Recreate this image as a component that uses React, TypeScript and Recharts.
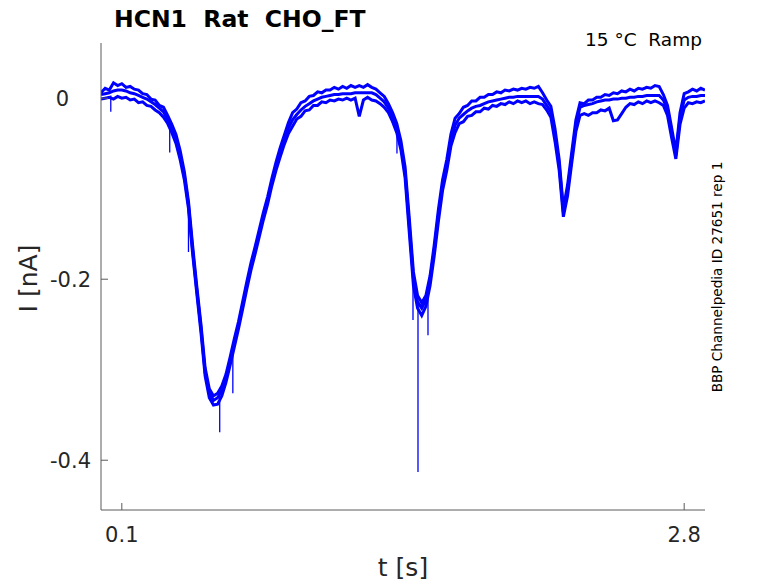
import { LineChart, Line, XAxis, YAxis } from 'recharts'

const BLUE = '#0000ff'
const INK = '#262626'
const AXIS = '#5a5a5a'
const FONT = '"DejaVu Sans", sans-serif'

// sample times [s]
const T = [
  0, 0.02, 0.04, 0.06, 0.08, 0.1, 0.12, 0.14, 0.16, 0.18,
  0.2, 0.22, 0.24, 0.26, 0.28, 0.3, 0.32, 0.34, 0.36, 0.38,
  0.4, 0.42, 0.44, 0.46, 0.48, 0.5, 0.52, 0.54, 0.56, 0.58,
  0.6, 0.62, 0.64, 0.66, 0.68, 0.7, 0.72, 0.74, 0.76, 0.78,
  0.8, 0.82, 0.84, 0.86, 0.88, 0.9, 0.92, 0.94, 0.96, 0.98,
  1.0, 1.02, 1.04, 1.06, 1.08, 1.1, 1.12, 1.14, 1.16, 1.18,
  1.2, 1.22, 1.24, 1.26, 1.28, 1.3, 1.32, 1.34, 1.36, 1.38,
  1.4, 1.42, 1.44, 1.46, 1.48, 1.5, 1.52, 1.54, 1.56, 1.58,
  1.6, 1.62, 1.64, 1.66, 1.68, 1.7, 1.72, 1.74, 1.76, 1.78,
  1.8, 1.82, 1.84, 1.86, 1.88, 1.9, 1.92, 1.94, 1.96, 1.98,
  2.0, 2.02, 2.04, 2.06, 2.08, 2.1, 2.12, 2.14, 2.16, 2.18,
  2.2, 2.22, 2.24, 2.26, 2.28, 2.3, 2.32, 2.34, 2.36, 2.38,
  2.4, 2.42, 2.44, 2.46, 2.48, 2.5, 2.52, 2.54, 2.56, 2.58,
  2.6, 2.62, 2.64, 2.66, 2.68, 2.7, 2.72, 2.74, 2.76, 2.78,
  2.8, 2.82, 2.84, 2.86, 2.88, 2.9,
]

// current [nA], three sweeps
const SWEEP_1 = [
  0.006, 0.011, 0.009, 0.017, 0.014, 0.016, 0.012, 0.013, 0.010, 0.009,
  0.005, 0.004, -0.001, -0.002, -0.008, -0.010, -0.019, -0.029, -0.040, -0.058,
  -0.081, -0.114, -0.163, -0.208, -0.250, -0.298, -0.321, -0.329, -0.326, -0.318,
  -0.305, -0.286, -0.266, -0.247, -0.225, -0.203, -0.182, -0.164, -0.145, -0.126,
  -0.109, -0.089, -0.071, -0.055, -0.041, -0.027, -0.016, -0.012, -0.005, -0.003,
  0.002, 0.003, 0.007, 0.006, 0.009, 0.009, 0.012, 0.010, 0.013, 0.011,
  0.014, 0.012, 0.014, 0.012, 0.015, 0.012, 0.010, 0.006, 0.002, -0.006,
  -0.016, -0.028, -0.047, -0.076, -0.132, -0.192, -0.218, -0.226, -0.218, -0.196,
  -0.162, -0.123, -0.090, -0.068, -0.040, -0.022, -0.017, -0.010, -0.008, -0.003,
  -0.003, 0.001, 0.001, 0.004, 0.004, 0.007, 0.006, 0.009, 0.008, 0.010,
  0.009, 0.011, 0.010, 0.012, 0.011, 0.013, 0.006, -0.002, -0.009, -0.034,
  -0.068, -0.122, -0.096, -0.060, -0.024, -0.005, -0.006, -0.002, -0.002, 0.001,
  0.001, 0.004, 0.003, 0.006, 0.005, 0.008, 0.007, 0.010, 0.008, 0.011,
  0.010, 0.012, 0.011, 0.014, 0.013, 0.004, -0.008, -0.033, -0.059, -0.016,
  0.005, 0.007, 0.010, 0.008, 0.011, 0.009,
]

const SWEEP_2 = [
  0.004, 0.005, 0.006, 0.008, 0.009, 0.009, 0.008, 0.006, 0.005, 0.003,
  0.001, -0.001, -0.004, -0.007, -0.011, -0.015, -0.024, -0.033, -0.044, -0.063,
  -0.085, -0.118, -0.168, -0.212, -0.254, -0.303, -0.326, -0.334, -0.331, -0.323,
  -0.309, -0.290, -0.270, -0.251, -0.229, -0.207, -0.186, -0.168, -0.149, -0.130,
  -0.113, -0.093, -0.076, -0.060, -0.046, -0.033, -0.024, -0.018, -0.013, -0.009,
  -0.006, -0.003, -0.001, 0.001, 0.002, 0.003, 0.004, 0.004, 0.005, 0.005,
  0.005, 0.006, 0.006, 0.006, 0.006, 0.006, 0.004, 0.000, -0.004, -0.011,
  -0.021, -0.033, -0.052, -0.082, -0.140, -0.199, -0.225, -0.232, -0.223, -0.201,
  -0.168, -0.129, -0.096, -0.074, -0.046, -0.030, -0.022, -0.018, -0.014, -0.011,
  -0.009, -0.008, -0.006, -0.004, -0.003, -0.002, -0.001, 0.000, 0.001, 0.001,
  0.002, 0.002, 0.002, 0.002, 0.002, 0.002, -0.001, -0.008, -0.015, -0.041,
  -0.074, -0.126, -0.102, -0.066, -0.030, -0.010, -0.008, -0.007, -0.006, -0.004,
  -0.003, -0.002, -0.002, -0.001, -0.001, 0.000, 0.000, 0.001, 0.001, 0.002,
  0.002, 0.003, 0.003, 0.003, 0.003, -0.002, -0.013, -0.038, -0.063, -0.022,
  -0.002, 0.001, 0.002, 0.002, 0.003, 0.003,
]

const SWEEP_3 = [
  -0.001, 0.000, 0.001, -0.001, 0.002, 0.000, 0.001, -0.002, -0.001, -0.005,
  -0.004, -0.008, -0.009, -0.013, -0.016, -0.021, -0.028, -0.038, -0.050, -0.068,
  -0.090, -0.122, -0.172, -0.216, -0.259, -0.307, -0.331, -0.339, -0.338, -0.329,
  -0.314, -0.295, -0.275, -0.255, -0.233, -0.211, -0.190, -0.172, -0.153, -0.134,
  -0.117, -0.097, -0.080, -0.065, -0.051, -0.039, -0.031, -0.023, -0.020, -0.014,
  -0.013, -0.008, -0.008, -0.004, -0.005, -0.002, -0.003, -0.001, -0.002, 0.000,
  -0.002, 0.000, -0.020, -0.002, 0.001, -0.002, -0.003, -0.006, -0.010, -0.016,
  -0.026, -0.038, -0.057, -0.088, -0.148, -0.207, -0.232, -0.240, -0.230, -0.207,
  -0.174, -0.136, -0.102, -0.080, -0.053, -0.038, -0.028, -0.026, -0.020, -0.019,
  -0.015, -0.015, -0.011, -0.012, -0.008, -0.009, -0.006, -0.007, -0.004, -0.006,
  -0.003, -0.005, -0.003, -0.006, -0.004, -0.006, -0.007, -0.013, -0.021, -0.048,
  -0.080, -0.131, -0.108, -0.072, -0.037, -0.019, -0.017, -0.019, -0.016, -0.016,
  -0.013, -0.014, -0.011, -0.025, -0.024, -0.017, -0.010, -0.006, -0.007, -0.004,
  -0.006, -0.003, -0.005, -0.003, -0.005, -0.008, -0.019, -0.044, -0.067, -0.029,
  -0.011, -0.005, -0.006, -0.004, -0.005, -0.003,
]

// single-sample glitches: time, level before, level reached
const GLITCH_T = [0.047, 0.33, 0.42, 0.57, 0.633, 1.421, 1.498, 1.522, 1.57]
const GLITCH_FROM = [0.003, -0.03, -0.118, -0.33, -0.27, -0.035, -0.2, -0.225, -0.215]
const GLITCH_TO = [-0.015, -0.06, -0.17, -0.369, -0.326, -0.061, -0.245, -0.413, -0.262]

const X_TICKS = [0.1, 2.8]
const Y_TICKS = [-0.4, -0.2, 0]

const rows = T.map((t, i) => ({ t, s1: SWEEP_1[i], s2: SWEEP_2[i], s3: SWEEP_3[i] }))
const glitches = GLITCH_T.flatMap((t, i) => [
  { t, g: GLITCH_FROM[i] },
  { t, g: GLITCH_TO[i] },
  { t, g: null },
])

function YTick(props: any) {
  const { x, y, payload } = props
  const v = payload.value
  const label = v === 0 ? '0' : v.toFixed(1)
  return (
    <g>
      <line x1={x + 10} x2={x + 17} y1={y} y2={y} stroke={AXIS} />
      <text x={v === 0 ? x - 22 : x} y={y} dy="0.36em" textAnchor="end"
        fill={INK} fontSize={21} fontFamily={FONT}>{label}</text>
    </g>
  )
}

function XTick(props: any) {
  const { x, y, payload } = props
  return (
    <g>
      <line x1={x} x2={x} y1={y - 32} y2={y - 39} stroke={AXIS} />
      <text x={x} y={y} textAnchor="middle" fill={INK} fontSize={21} fontFamily={FONT}>
        {payload.value.toFixed(1)}
      </text>
    </g>
  )
}

function YLabel(props: any) {
  const { x, y, height } = props.viewBox
  const cx = x + 28
  const cy = y + height / 2 + 2
  return (
    <text x={cx} y={cy} transform={`rotate(-90, ${cx}, ${cy})`} textAnchor="middle"
      dominantBaseline="central" fill={INK} fontSize={25} fontFamily={FONT}>I [nA]</text>
  )
}

function XLabel(props: any) {
  const { x, y, width } = props.viewBox
  return (
    <text x={x + width / 2} y={y + 66} textAnchor="middle" fill={INK}
      fontSize={25} fontFamily={FONT}>t [s]</text>
  )
}

export default function App() {
  return (
    <div style={{ position: 'absolute', left: 0, top: 0, width: 778, height: 583, background: '#fff', fontFamily: FONT }}>
      <div style={{ position: 'absolute', left: 114, top: 5, fontSize: 23.5, fontWeight: 'bold', color: '#000', whiteSpace: 'pre' }}>
        {'HCN1  Rat  CHO_FT'}
      </div>
      <div style={{ position: 'absolute', left: 585, top: 29, fontSize: 18.5, color: '#000', whiteSpace: 'pre' }}>
        {'15 °C  Ramp'}
      </div>
      <div style={{
        position: 'absolute', left: 717, top: 277, fontSize: 13.6, color: '#000', whiteSpace: 'pre',
        transform: 'translate(-50%, -50%) rotate(-90deg)',
      }}>
        BBP Channelpedia ID 27651 rep 1
      </div>
      <LineChart width={778} height={583} data={rows} margin={{ top: 43, right: 73, bottom: 0, left: 0 }}>
        <XAxis dataKey="t" type="number" domain={[0, 2.9]} ticks={X_TICKS} allowDataOverflow
          height={73} tickSize={0} tickMargin={32} stroke={AXIS} tick={<XTick />} tickLine={false}
          label={{ content: <XLabel /> }} />
        <YAxis type="number" domain={[-0.455, 0.061]} ticks={Y_TICKS} allowDataOverflow
          width={101} tickSize={0} tickMargin={10} stroke={AXIS} tick={<YTick />} tickLine={false}
          label={{ content: <YLabel /> }} />
        <Line dataKey="s1" stroke={BLUE} strokeWidth={3} dot={false} isAnimationActive={false} />
        <Line dataKey="s2" stroke={BLUE} strokeWidth={3} dot={false} isAnimationActive={false} />
        <Line dataKey="s3" stroke={BLUE} strokeWidth={3} dot={false} isAnimationActive={false} />
        <Line data={glitches} dataKey="g" stroke={BLUE} strokeWidth={1.3} dot={false}
          connectNulls={false} isAnimationActive={false} />
      </LineChart>
    </div>
  )
}
